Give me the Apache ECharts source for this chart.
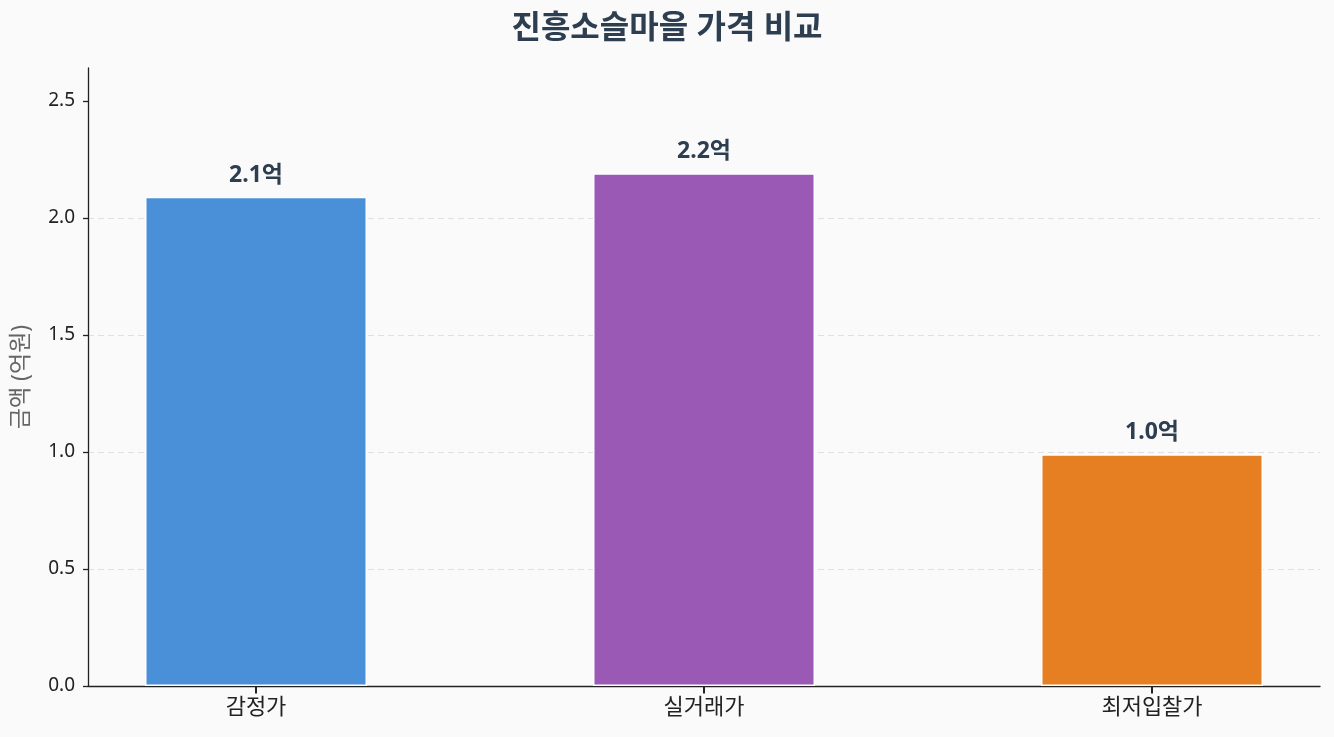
<!DOCTYPE html>
<html><head><meta charset="utf-8">
<script src="https://cdn.jsdelivr.net/npm/echarts@6/dist/echarts.min.js"></script>
<style>html,body{margin:0;padding:0;background:#fafafa;}#c{width:1334px;height:737px;}</style>
</head><body><div id="c"></div>
<script>
const categories = ['감정가', '실거래가', '최저입찰가'];
const values = [2.09, 2.19, 0.99];
const labels = ['2.1억', '2.2억', '1.0억'];
const colors = ['#4a90d9', '#9b59b6', '#e67e22'];
const yTicks = [0, 0.5, 1.0, 1.5, 2.0, 2.5];
const xTicks = [0, 1, 2];

const font = '"Noto Sans", "Noto Sans CJK KR", sans-serif';
const chart = echarts.init(document.getElementById('c'));
chart.setOption({
  backgroundColor: '#fafafa',
  animation: false,
  title: {
    text: '진흥소슬마을 가격 비교', left: 'center', top: 8,
    textStyle: { fontFamily: font, fontSize: 32, fontWeight: 'bold', color: '#2c3e50' }
  },
  grid: { left: 88, width: 1232, top: 68, bottom: 51, outerBoundsMode: 'none', containLabel: false },
  xAxis: {
    type: 'value', min: -0.375, max: 2.375,
    axisLine: { show: true, onZero: false, lineStyle: { color: '#222', width: 1.3 } },
    axisTick: { show: true, customValues: xTicks, length: 6, lineStyle: { color: '#222', width: 1.5 } },
    axisLabel: { show: true, customValues: xTicks, formatter: v => categories[Math.round(v)] || '',
      color: '#222', fontSize: 22, fontFamily: font, margin: 11 },
    splitLine: { show: false }
  },
  yAxis: {
    type: 'value', min: 0, max: 2.64, interval: 0.5,
    name: '금액 (억원)', nameLocation: 'middle', nameGap: 55, nameMoveOverlap: false,
    nameTextStyle: { color: '#666', fontSize: 23, fontFamily: font },
    axisLine: { show: true, onZero: false, lineStyle: { color: '#222', width: 1.3 } },
    axisTick: { show: true, customValues: yTicks, length: 5, lineStyle: { color: '#222', width: 1.3 } },
    axisLabel: { customValues: yTicks, formatter: v => v.toFixed(1), color: '#222', fontSize: 19, fontFamily: font, margin: 13 },
    splitLine: { show: true, showMinLine: false, showMaxLine: false, lineStyle: { color: '#e0e0e0', type: [6, 4], width: 1 } }
  },
  series: [{
    type: 'bar',
    barWidth: 222,
    data: values.map((v, i) => ({
      value: [i, v],
      itemStyle: { color: colors[i], borderColor: '#ffffff', borderWidth: 1.5 },
      label: { show: true, position: 'top', distance: 10, formatter: labels[i],
        color: '#2c3e50', fontSize: 23, fontWeight: 'bold', fontFamily: font }
    }))
  }, {
    // category tick marks below the x axis
    type: 'scatter', silent: true, clip: false, z: 5,
    symbol: 'rect', symbolSize: [2, 7], symbolOffset: [0, 4],
    itemStyle: { color: '#222', opacity: 1 },
    data: xTicks.map(t => [t, 0])
  }]
});
</script></body></html>
